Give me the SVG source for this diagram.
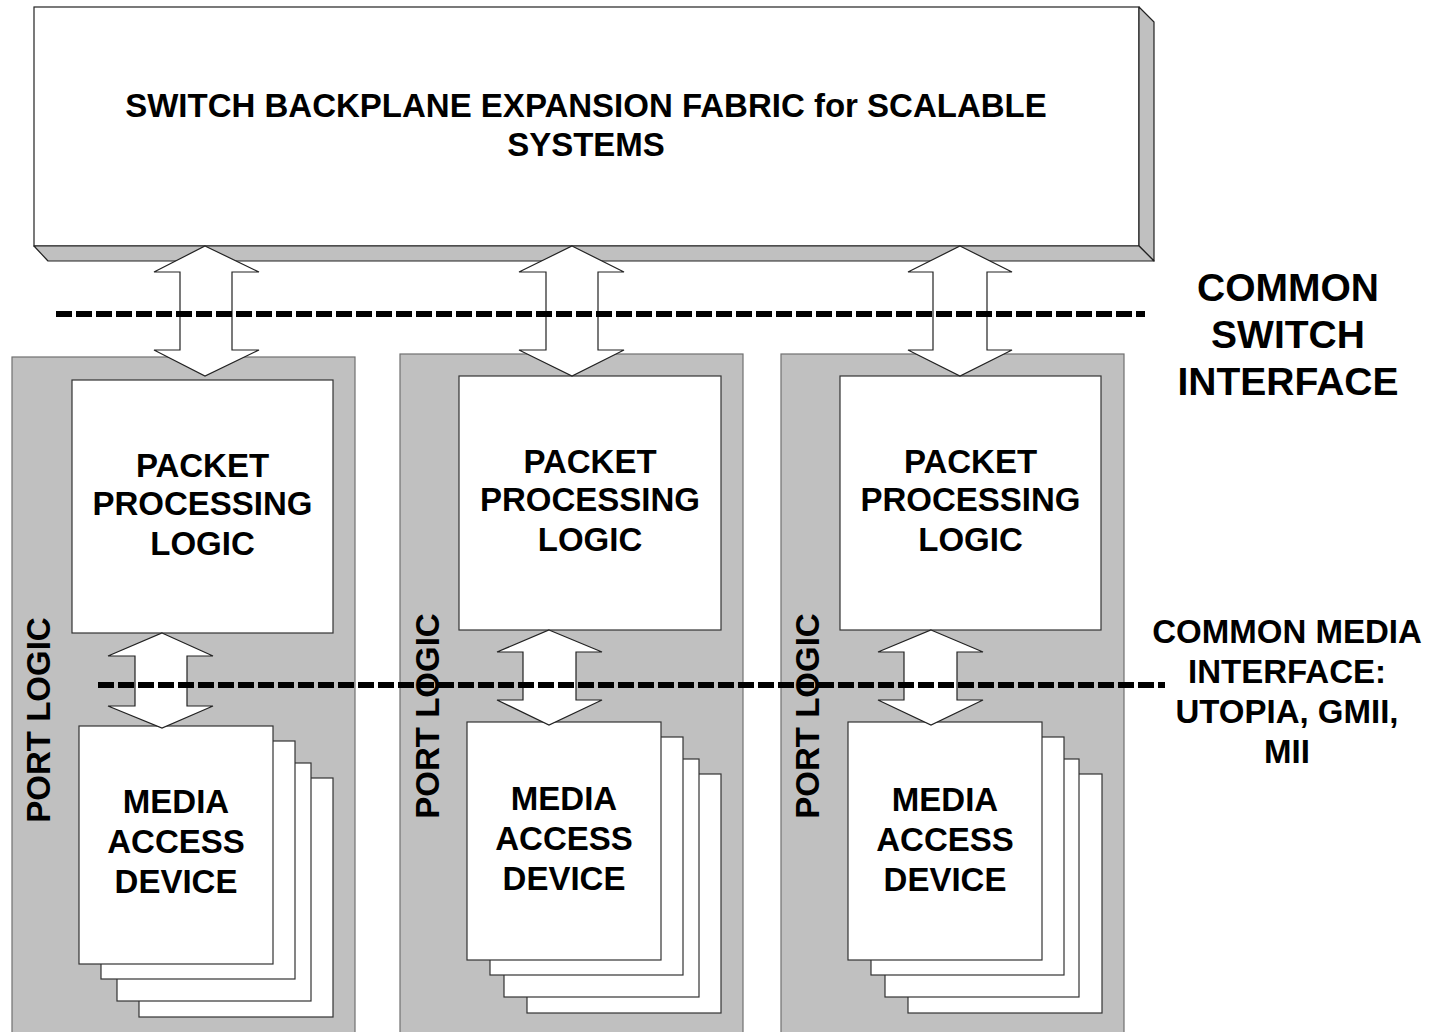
<svg xmlns="http://www.w3.org/2000/svg" width="1431" height="1032" viewBox="0 0 1431 1032">
  <style>
    text { font-family: "Liberation Sans", Arial, Helvetica, sans-serif; font-weight: bold; fill: #000; text-anchor: middle; }
    .t33 { font-size: 33px; }
    .t39 { font-size: 39px; }
    .face { fill: #fff; stroke: #222; stroke-width: 1.2; }
    .bevel { fill: #c0c0c0; stroke: #222; stroke-width: 1.2; stroke-linejoin: round; }
    .panel { fill: #c0c0c0; stroke: #707070; stroke-width: 1.2; }
    .box { fill: #fff; stroke: #333; stroke-width: 1.2; }
    .arrow { fill: #fff; stroke: #222; stroke-width: 1.2; stroke-linejoin: miter; }
    .iface { fill: none; stroke: #000; stroke-width: 6; stroke-dasharray: 16 4; }
  </style>

  <!-- backplane fabric: bevelled slab -->
  <g id="fabric">
    <rect class="face" x="34" y="7" width="1105" height="239"/>
    <polygon class="bevel" points="1139,7 1154,22 1154,261 1139,246"/>
    <polygon class="bevel" points="34,246 1139,246 1154,261 48,261"/>
    <text class="t33" x="586" y="117">SWITCH BACKPLANE EXPANSION FABRIC for SCALABLE</text>
    <text class="t33" x="586" y="156">SYSTEMS</text>
  </g>

  <!-- port 1 -->
  <g id="port1">
    <rect class="panel" x="12" y="357" width="343" height="690"/>
    <text class="t33" transform="translate(50,720) rotate(-90)" x="0" y="0">PORT LOGIC</text>
  </g>
  <g id="ppl1">
    <rect class="box" x="72" y="380" width="261" height="253"/>
    <text class="t33" x="202.5" y="477">PACKET</text>
    <text class="t33" x="202.5" y="515">PROCESSING</text>
    <text class="t33" x="202.5" y="555">LOGIC</text>
  </g>
  <g id="mad1">
    <rect class="box" x="139" y="778" width="194" height="239"/>
    <rect class="box" x="117" y="763" width="194" height="238"/>
    <rect class="box" x="101" y="741" width="194" height="238"/>
    <rect class="box" x="79" y="726" width="194" height="238"/>
    <text class="t33" x="176" y="813">MEDIA</text>
    <text class="t33" x="176" y="853">ACCESS</text>
    <text class="t33" x="176" y="893">DEVICE</text>
  </g>

  <!-- port 2 -->
  <g id="port2">
    <rect class="panel" x="400" y="354" width="343" height="690"/>
    <text class="t33" transform="translate(439,716) rotate(-90)" x="0" y="0">PORT LOGIC</text>
  </g>
  <g id="ppl2">
    <rect class="box" x="459" y="376" width="262" height="254"/>
    <text class="t33" x="590" y="473">PACKET</text>
    <text class="t33" x="590" y="511">PROCESSING</text>
    <text class="t33" x="590" y="551">LOGIC</text>
  </g>
  <g id="mad2">
    <rect class="box" x="527" y="774" width="194" height="239"/>
    <rect class="box" x="504" y="759" width="195" height="238"/>
    <rect class="box" x="490" y="737" width="193" height="238"/>
    <rect class="box" x="467" y="722" width="194" height="238"/>
    <text class="t33" x="564" y="810">MEDIA</text>
    <text class="t33" x="564" y="850">ACCESS</text>
    <text class="t33" x="564" y="890">DEVICE</text>
  </g>

  <!-- port 3 -->
  <g id="port3">
    <rect class="panel" x="781" y="354" width="343" height="690"/>
    <text class="t33" transform="translate(819,716) rotate(-90)" x="0" y="0">PORT LOGIC</text>
  </g>
  <g id="ppl3">
    <rect class="box" x="840" y="376" width="261" height="254"/>
    <text class="t33" x="970.5" y="473">PACKET</text>
    <text class="t33" x="970.5" y="511">PROCESSING</text>
    <text class="t33" x="970.5" y="551">LOGIC</text>
  </g>
  <g id="mad3">
    <rect class="box" x="908" y="774" width="194" height="239"/>
    <rect class="box" x="885" y="759" width="194" height="238"/>
    <rect class="box" x="871" y="737" width="193" height="238"/>
    <rect class="box" x="848" y="722" width="194" height="238"/>
    <text class="t33" x="945" y="811">MEDIA</text>
    <text class="t33" x="945" y="851">ACCESS</text>
    <text class="t33" x="945" y="891">DEVICE</text>
  </g>

  <!-- two-way block arrows -->
  <g id="connectors">
    <polygon class="arrow" points="205,246 259,272 232,272 232,350 259,350 205,376 154,350 180,350 180,272 154,272"/>
    <polygon class="arrow" points="572,246 624,272 598,272 598,350 624,350 572,376 519,350 546,350 546,272 519,272"/>
    <polygon class="arrow" points="960,246 1012,272 987,272 987,350 1012,350 960,376 908,350 933,350 933,272 908,272"/>
    <polygon class="arrow" points="162,633 213,656 187,656 187,706 213,706 162,728 108,706 135,706 135,656 108,656"/>
    <polygon class="arrow" points="549,630 602,652 576,652 576,700 602,700 549,725 497,700 523,700 523,652 497,652"/>
    <polygon class="arrow" points="931,630 983,652 957,652 957,700 983,700 931,725 878,700 904,700 904,652 878,652"/>
  </g>

  <!-- interface boundaries -->
  <g id="interfaces">
    <line class="iface" x1="56" y1="314" x2="1145" y2="314"/>
    <line class="iface" x1="98" y1="685" x2="1165" y2="685"/>
  </g>

  <g id="switch-label">
    <text class="t39" x="1288" y="301">COMMON</text>
    <text class="t39" x="1288" y="348">SWITCH</text>
    <text class="t39" x="1288" y="395">INTERFACE</text>
  </g>
  <g id="media-label">
    <text class="t33" x="1287" y="643">COMMON MEDIA</text>
    <text class="t33" x="1287" y="683">INTERFACE:</text>
    <text class="t33" x="1287" y="723">UTOPIA, GMII,</text>
    <text class="t33" x="1287" y="763">MII</text>
  </g>
</svg>
